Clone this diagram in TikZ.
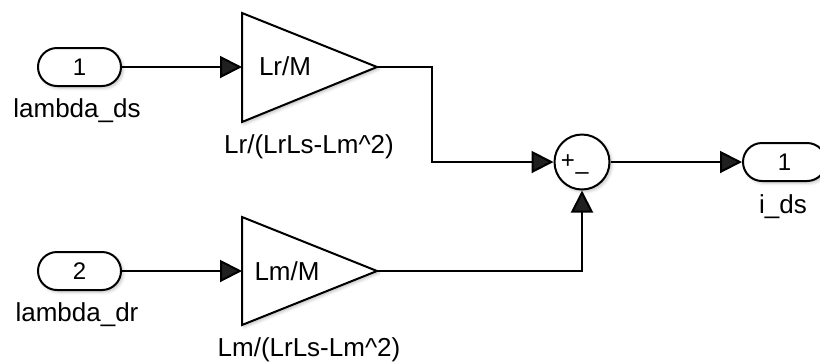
\documentclass[tikz,border=0pt]{standalone}
\usepackage{fontspec}
\setmainfont{Liberation Sans}
\usetikzlibrary{arrows.meta}
\usetikzlibrary{shadows.blur}
\tikzset{
	blockshadow/.style = {
		blur shadow={shadow xshift=1pt, shadow yshift=-1pt,
			shadow blur radius=1.5pt, shadow opacity=25}
	},
	port/.style = {
		draw=black,
		line width=1pt,
		fill=white,
		blockshadow,
		rounded corners=9.5pt,
		minimum width=41.5pt,
		minimum height=19pt,
		inner sep=0pt,
		font=\fontsize{12}{12}\selectfont
	},
	portlabel/.style = {
		inner sep=0pt,
		font=\fontsize{13}{13}\selectfont
	},
	gain/.style = {
		draw=black,
		line width=1pt,
		fill=white,
		blockshadow,
		line join=miter
	},
	gaintext/.style = {
		portlabel
	},
	sumblock/.style = {
		circle,
		draw=black,
		line width=1pt,
		fill=white,
		blockshadow,
		minimum size=27.5pt,
		inner sep=0pt
	},
	sign/.style = {
		inner sep=0pt,
		font=\fontsize{12}{12}\selectfont
	},
	wire/.style = {
		line width=1pt,
		->
	},
}

\begin{document}
\begin{tikzpicture}[x=0.5pt, y=-0.5pt, >={Triangle[length=11pt,width=11pt]}]
\useasboundingbox (0,0) rectangle (820,361);
% inputs
\node [port] (in1) at (79.5,67) {1};
\node [portlabel] (in1lab) at (77,111) {lambda\_ds};
\node [port] (in2) at (79.5,271) {2};
\node [portlabel] (in2lab) at (77,315) {lambda\_dr};
% gains
\coordinate (g1in) at (242,67);
\coordinate (g1out) at (377,67);
\draw [gain] (242,13) -- (g1out) -- (242,122) -- cycle;
\node [gaintext] (g1txt) at (285,66) {Lr/M};
\node [portlabel] (g1lab) at (309,147) {Lr/(LrLs-Lm\textasciicircum 2)};
\coordinate (g2in) at (242,271);
\coordinate (g2out) at (377,271);
\draw [gain] (242,217) -- (g2out) -- (242,325) -- cycle;
\node [gaintext] (g2txt) at (287,271) {Lm/M};
\node [portlabel] (g2lab) at (309,350) {Lm/(LrLs-Lm\textasciicircum 2)};
% sum and output
\node [sumblock] (sum) at (582,162) {};
\node [sign] (sumplus) at (568,162) {+};
\node [sign] (summinus) at (582,176) {–};
\node [port] (out1) at (784.5,162) {1};
\node [portlabel] (out1lab) at (783,207) {i\_ds};
% wires
\draw [wire] (in1) -- (g1in);
\draw [wire] (in2) -- (g2in);
\draw [wire] (g1out) -- ++(55,0) |- (sum.west);
\draw [wire] (g2out) -| (sum.south);
\draw [wire] (sum) -- (out1);
\end{tikzpicture}
\end{document}
